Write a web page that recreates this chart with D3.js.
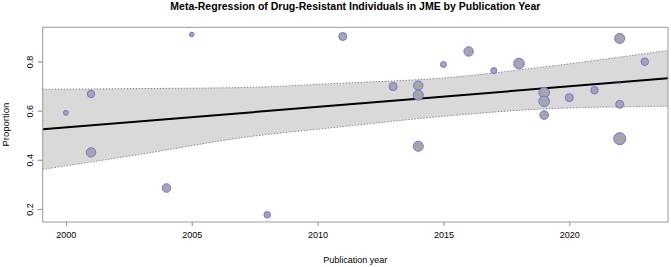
<!DOCTYPE html>
<html>
<head>
<meta charset="utf-8">
<script src="https://cdn.jsdelivr.net/npm/d3@7"></script>
<style>
  body { margin: 0; background: #fff; }
  text { font-family: "Liberation Sans", Arial, sans-serif; fill: #000; }
</style>
</head>
<body>
<div id="chart"></div>
<script>
var w = 671;
var h = 267;
var margin = { top: 27.3, right: 3, bottom: 45, left: 42.7 };
var width = w - margin.left - margin.right;
var height = h - margin.top - margin.bottom;

// Studies: publication year, proportion, relative weight (point area)
var years = [2000, 2001, 2001, 2004, 2005, 2008, 2011, 2013, 2014, 2014, 2014, 2015, 2016,
             2017, 2018, 2019, 2019, 2019, 2020, 2021, 2022, 2022, 2022, 2022, 2023];
var proportions = [0.591, 0.668, 0.430, 0.285, 0.910, 0.176, 0.902, 0.698, 0.702, 0.663, 0.455, 0.788, 0.841,
                   0.763, 0.792, 0.673, 0.638, 0.582, 0.653, 0.683, 0.894, 0.626, 0.486, 0.712, 0.799];
var weights = [5.8, 13.7, 22, 18.5, 5.3, 10.9, 16, 16, 22, 25, 25, 9, 22,
               9, 28, 28, 28, 18.5, 16, 13.7, 25, 16, 36, 0.4, 13.7];

// Fitted line and its confidence band
var fitYears = [1999.08, 2023.92];
var fitValues = [0.524, 0.732];
var bandYears = [1999.08, 2003, 2007, 2011, 2015, 2019, 2023.92];
var bandUpper = [0.687, 0.690, 0.694, 0.712, 0.733, 0.778, 0.845];
var bandLower = [0.361, 0.423, 0.490, 0.535, 0.577, 0.607, 0.618];

var xTicks = [2000, 2005, 2010, 2015, 2020];
var yTicks = [0.2, 0.4, 0.6, 0.8];

// R-style 4% padding around the data range
var xr = d3.extent(years), yr = d3.extent(proportions);
var xpad = (xr[1] - xr[0]) * 0.04, ypad = (yr[1] - yr[0]) * 0.04;

var xScale = d3.scaleLinear().domain([xr[0] - xpad, xr[1] + xpad]).range([0, width]);
var yScale = d3.scaleLinear().domain([yr[0] - ypad, yr[1] + ypad]).range([height, 0]);
var rScale = d3.scaleSqrt().domain([0, d3.max(weights)]).range([0, 6]);

var svg = d3.select("#chart").append("svg")
    .attr("width", w)
    .attr("height", h);

var g = svg.append("g")
    .attr("transform", "translate(" + margin.left + "," + margin.top + ")");

g.append("clipPath").attr("id", "clip")
  .append("rect").attr("width", width).attr("height", height);

var plot = g.append("g").attr("clip-path", "url(#clip)");

// Confidence band
var band = bandYears.map(function(y, i) { return { x: y, lo: bandLower[i], hi: bandUpper[i] }; });
plot.append("path")
    .datum(band)
    .attr("d", d3.area()
        .curve(d3.curveMonotoneX)
        .x(function(d) { return xScale(d.x); })
        .y0(function(d) { return yScale(d.lo); })
        .y1(function(d) { return yScale(d.hi); }))
    .attr("fill", "#d9d9d9");

["lo", "hi"].forEach(function(k) {
  plot.append("path")
      .datum(band)
      .attr("d", d3.line()
          .curve(d3.curveMonotoneX)
          .x(function(d) { return xScale(d.x); })
          .y(function(d) { return yScale(d[k]); }))
      .attr("fill", "none")
      .attr("stroke", "#8c8c8c")
      .attr("stroke-width", 1)
      .attr("stroke-dasharray", "1.5,1.5");
});

// Regression line
plot.append("path")
    .datum(fitYears.map(function(y, i) { return [y, fitValues[i]]; }))
    .attr("d", d3.line()
        .x(function(d) { return xScale(d[0]); })
        .y(function(d) { return yScale(d[1]); }))
    .attr("fill", "none")
    .attr("stroke", "#000")
    .attr("stroke-width", 2);

// Study points
var pts = years.map(function(y, i) { return { x: y, p: proportions[i], wt: weights[i] }; });
g.selectAll("circle.pt")
    .data(pts)
    .enter().append("circle")
    .attr("class", "pt")
    .attr("cx", function(d) { return xScale(d.x); })
    .attr("cy", function(d) { return yScale(d.p); })
    .attr("r", function(d) { return rScale(d.wt); })
    .attr("fill", "#a6a6a6")
    .attr("stroke", "#6f6ff2")
    .attr("stroke-width", 1);

// Box
g.append("rect")
    .attr("width", width)
    .attr("height", height)
    .attr("fill", "none")
    .attr("stroke", "#9a9a9a")
    .attr("stroke-width", 1);

// Axes
var xAxis = g.append("g")
    .attr("transform", "translate(0," + height + ")")
    .call(d3.axisBottom(xScale).tickValues(xTicks).tickFormat(d3.format("d")).tickSize(4).tickPadding(6));
var yAxis = g.append("g")
    .call(d3.axisLeft(yScale).tickValues(yTicks).tickFormat(d3.format(".1f")).tickSize(5).tickPadding(3));

[xAxis, yAxis].forEach(function(a) {
  a.select(".domain").remove();
  a.selectAll("line").attr("stroke", "#8c8c8c");
  a.selectAll("text").style("font-size", "9px").attr("fill", "#000");
});

yAxis.selectAll("text")
    .attr("transform", "rotate(-90)")
    .attr("x", 0)
    .attr("dy", 0)
    .attr("y", -10)
    .style("text-anchor", "middle");

// Labels
svg.append("text")
    .attr("x", margin.left + width / 2)
    .attr("y", 263)
    .attr("text-anchor", "middle")
    .style("font-size", "9px")
    .text("Publication year");

svg.append("text")
    .attr("transform", "translate(8.5," + (margin.top + height / 2) + ") rotate(-90)")
    .attr("text-anchor", "middle")
    .style("font-size", "9.5px")
    .text("Proportion");

svg.append("text")
    .attr("x", margin.left + width / 2)
    .attr("y", 10)
    .attr("text-anchor", "middle")
    .attr("textLength", 370)
    .attr("lengthAdjust", "spacingAndGlyphs")
    .style("font-size", "10.5px")
    .style("font-weight", "bold")
    .text("Meta-Regression of Drug-Resistant Individuals in JME by Publication Year");
</script>
</body>
</html>
